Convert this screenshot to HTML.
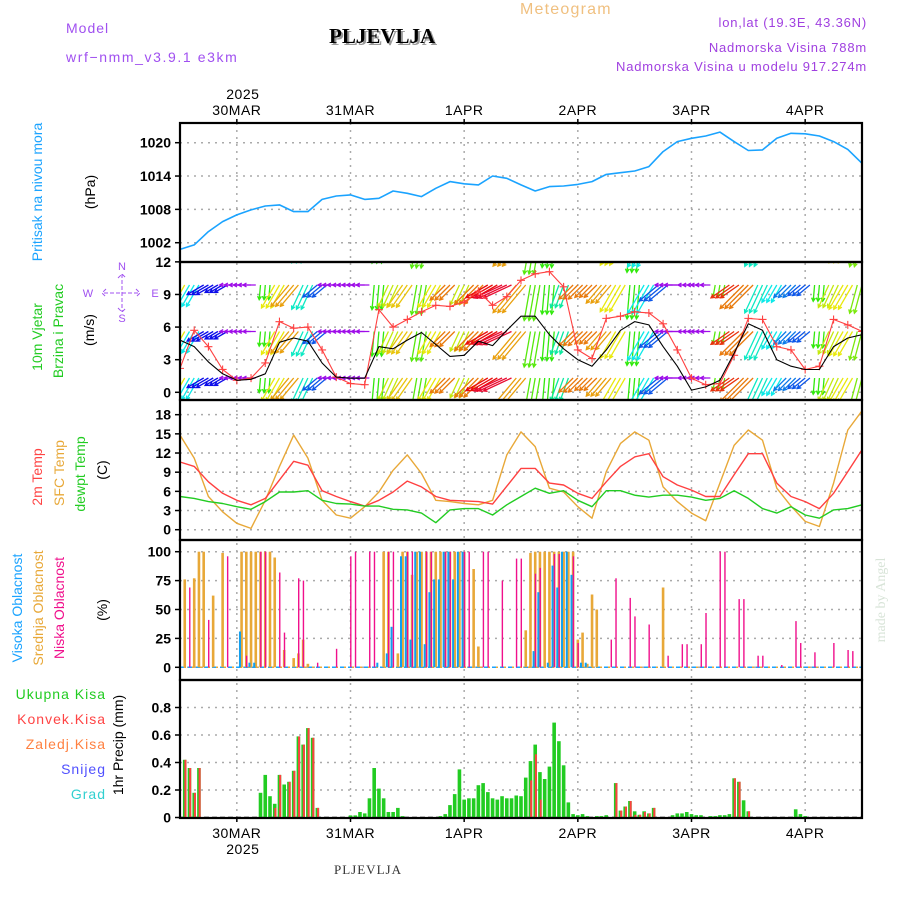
<!DOCTYPE html>
<html><head><meta charset="utf-8"><style>
body{margin:0;background:#fff;}
svg{display:block;font-family:"Liberation Sans",sans-serif;}
</style></head><body>
<svg id="chart" width="900" height="900" viewBox="0 0 900 900" xmlns="http://www.w3.org/2000/svg">
<defs>
<clipPath id="clipW"><rect x="180" y="262" width="682" height="138"/></clipPath>
</defs>
<g id="header">
<text x="66" y="33" font-size="14" fill="#a050f0" letter-spacing="1">Model</text>
<text x="66" y="62" font-size="14" fill="#a050f0" letter-spacing="1.6">wrf−nmm_v3.9.1 e3km</text>
<text x="331" y="45" font-size="21" font-weight="bold" fill="#999" font-family="Liberation Serif, serif">PLJEVLJA</text>
<text x="329" y="43" font-size="21" font-weight="bold" fill="#000" font-family="Liberation Serif, serif">PLJEVLJA</text>
<text x="520" y="14" font-size="16" fill="#f0c080" letter-spacing="1.2">Meteogram</text>
<text x="867" y="27" font-size="13" fill="#a040e0" text-anchor="end" letter-spacing="0.8">lon,lat (19.3E, 43.36N)</text>
<text x="867" y="52" font-size="13" fill="#a040e0" text-anchor="end" letter-spacing="0.8">Nadmorska Visina 788m</text>
<text x="867" y="71" font-size="13" fill="#a040e0" text-anchor="end" letter-spacing="0.8">Nadmorska Visina u modelu 917.274m</text>
<text x="368" y="874" font-size="13" fill="#333" text-anchor="middle" letter-spacing="1" font-family="Liberation Serif, serif">PLJEVLJA</text>
<text transform="translate(885,600) rotate(-90)" font-size="14" fill="#d8e4d8" text-anchor="middle" font-family="Liberation Serif, serif">made by Angel</text>
</g>
<g id="ylabels" font-size="14">
<text transform="translate(42,192) rotate(-90)" text-anchor="middle" fill="#1aa3ff">Pritisak na nivou mora</text>
<text transform="translate(95,192) rotate(-90)" text-anchor="middle" fill="#000">(hPa)</text>
<text transform="translate(42,337) rotate(-90)" text-anchor="middle" fill="#22cc22">10m Vjetar</text>
<text transform="translate(63,331) rotate(-90)" text-anchor="middle" fill="#22cc22">Brzina i Pravac</text>
<text transform="translate(94,330) rotate(-90)" text-anchor="middle" fill="#000">(m/s)</text>
<g fill="#a050f0" font-size="11">
<text x="122" y="270" text-anchor="middle">N</text>
<text x="122" y="322" text-anchor="middle">S</text>
<text x="88" y="297" text-anchor="middle">W</text>
<text x="155" y="297" text-anchor="middle">E</text>
<path d="M122 274V312M104 293H140M106 289L102 293L106 297M136 289L140 293L136 297M118 278L122 274L126 278M118 308L122 312L126 308" stroke="#a050f0" stroke-width="1" fill="none" stroke-dasharray="4,2"/>
</g>
<text transform="translate(42,477) rotate(-90)" text-anchor="middle" fill="#ff4444">2m Temp</text>
<text transform="translate(64,473) rotate(-90)" text-anchor="middle" fill="#e8a838">SFC Temp</text>
<text transform="translate(85,474) rotate(-90)" text-anchor="middle" fill="#22cc22">dewpt Temp</text>
<text transform="translate(107,470) rotate(-90)" text-anchor="middle" fill="#000">(C)</text>
<text transform="translate(22,608) rotate(-90)" text-anchor="middle" fill="#1aa3ff">Visoka Oblacnost</text>
<text transform="translate(43,608) rotate(-90)" text-anchor="middle" fill="#e8a838">Srednja Oblacnost</text>
<text transform="translate(64,608) rotate(-90)" text-anchor="middle" fill="#f0108c">Niska Oblacnost</text>
<text transform="translate(107,610) rotate(-90)" text-anchor="middle" fill="#000">(%)</text>
<text x="106" y="699" text-anchor="end" fill="#22cc22" letter-spacing="1">Ukupna Kisa</text>
<text x="106" y="724" text-anchor="end" fill="#ff4444" letter-spacing="1">Konvek.Kisa</text>
<text x="106" y="749" text-anchor="end" fill="#ff8040" letter-spacing="1">Zaledj.Kisa</text>
<text x="106" y="774" text-anchor="end" fill="#5050ff" letter-spacing="1">Snijeg</text>
<text x="106" y="799" text-anchor="end" fill="#30d0d0" letter-spacing="1">Grad</text>
<text transform="translate(123,745) rotate(-90)" text-anchor="middle" fill="#000">1hr Precip (mm)</text>
</g>
<g id="grid"></g>
<g id="marks"></g>
<g id="frames"></g>
</svg>
<script>
// ---- data (3-hourly from 29MAR 12Z, 49 points) ----
const dayLabels = ["30MAR","31MAR","1APR","2APR","3APR","4APR"];
const pressure = [1000.8,1001.6,1004.0,1005.8,1007.0,1007.9,1008.6,1008.8,1007.6,1007.6,1009.8,1010.4,1010.6,1009.8,1010.0,1011.3,1010.9,1010.3,1011.8,1013.0,1012.6,1012.4,1014.0,1013.6,1012.4,1011.3,1012.1,1012.2,1012.5,1013.0,1014.3,1014.6,1014.9,1015.7,1018.4,1020.2,1020.8,1021.2,1021.9,1020.2,1018.6,1018.7,1020.8,1021.7,1021.6,1021.2,1020.2,1018.8,1016.3];
const windSpeed = [4.8,4.2,2.8,1.7,1.1,1.2,1.7,4.6,5.0,4.7,2.7,1.4,1.3,1.3,4.2,4.0,4.8,5.5,4.4,3.3,3.4,4.7,4.3,5.7,7.0,7.0,5.3,4.0,3.0,2.4,3.9,5.7,6.5,6.2,4.2,2.4,0.2,0.5,1.1,3.6,6.3,5.7,3.0,2.4,2.1,2.1,4.2,5.0,5.3];
const windGust = [2.2,5.7,4.2,2.1,1.1,1.3,2.7,6.5,5.9,6.0,3.9,1.4,0.8,0.7,7.6,6.0,6.7,7.4,8.0,7.9,8.3,9.3,8.0,8.8,10.3,10.9,11.1,9.7,3.9,3.1,6.8,7.0,7.4,7.3,6.3,3.9,1.3,0.7,0.8,3.4,6.8,6.7,4.2,3.9,2.1,2.4,6.7,6.2,5.6];
const windDir = [30,-30,-60,-60,100,100,5,30,40,-25,-50,100,100,100,5,25,35,10,30,45,25,45,60,65,40,10,5,-20,45,45,40,30,5,-30,-50,100,100,100,10,55,45,-25,-30,-45,-50,5,25,30,15];
const temp2m = [10.6,9.9,7.5,5.7,4.6,3.9,4.9,7.8,10.7,10.1,6.1,5.2,4.4,3.7,4.6,5.9,7.6,6.7,5.2,4.6,4.5,4.4,4.0,6.8,9.6,9.6,7.3,7.0,5.7,4.9,7.5,9.9,11.4,11.9,8.3,7.0,6.2,5.2,5.2,8.6,11.9,11.9,7.3,5.2,4.4,3.3,5.7,9.1,12.5];
const tempSfc = [14.8,11.2,5.2,2.8,1.0,0.2,4.6,9.9,14.8,11.2,4.6,2.3,1.8,3.6,5.9,9.3,11.7,8.8,4.6,4.4,4.1,3.9,4.6,11.7,15.3,13.0,6.5,5.9,3.6,1.8,9.1,13.5,15.3,14.0,6.7,4.4,2.6,1.4,7.3,13.2,15.6,14.0,6.5,3.7,1.3,0.5,7.3,15.6,18.6];
const tempDew = [5.2,4.9,4.4,4.1,3.6,3.2,4.4,5.9,5.9,6.1,4.6,4.1,4.0,3.7,3.7,3.2,3.1,2.6,1.1,3.1,3.3,3.3,2.3,3.9,5.2,6.5,5.7,6.1,4.6,3.6,6.1,6.1,5.4,5.1,5.4,5.4,5.1,4.6,4.9,6.1,4.9,3.3,2.6,3.6,2.3,1.8,3.1,3.3,3.9];
// ---- cloud cover (hour index, %) ----
const highHours = [13,15,16,42,44,45,47,48,49,50,51,52,53,54,55,56,57,58,59,60,75,76,78,79,80,81,82,83,85,86];
const highVals  = [31,4,4,4,12,35,96,96,24,100,100,20,65,76,76,100,100,76,100,100,14,65,4,88,69,100,100,80,4,4];
const midHours = [1,3,4,5,7,9,13,14,15,16,17,18,19,20,22,24,25,26,27,43,44,46,47,48,49,50,51,52,53,54,55,56,57,58,59,60,62,63,73,74,75,76,77,78,79,80,81,82,83,84,85,86,87,88,102];
const midVals  = [76,77,100,100,62,99,100,100,100,100,100,100,100,95,15,8,12,24,3,100,100,12,100,100,80,100,100,100,100,100,100,100,100,100,100,100,85,18,32,99,100,100,100,100,100,100,100,100,100,24,30,3,63,50,69];
const lowHours = [2,6,10,14,17,18,21,22,25,26,29,33,36,37,40,41,44,45,48,49,52,53,56,57,60,61,64,65,68,71,72,75,76,79,80,83,84,91,92,95,96,99,103,106,107,110,111,114,115,118,119,122,123,127,130,131,134,138,141,142];
const lowVals  = [69,41,96,10,100,100,82,30,77,75,4,16,96,100,100,100,100,100,100,100,100,100,100,100,100,100,100,100,75,94,94,81,86,98,98,96,21,24,77,60,44,37,10,20,20,20,47,100,100,59,59,10,10,2,40,21,13,21,15,14];
// ---- precipitation (hour index, mm) ----
const precipHours = [1,2,3,4,17,18,19,20,21,22,23,24,25,26,27,28,29,36,37,38,39,40,41,42,43,44,45,46,47,55,56,57,58,59,60,61,62,63,64,65,66,67,68,69,70,71,72,73,74,75,76,77,78,79,80,81,82,83,84,85,86,88,89,90,92,93,94,95,96,97,98,99,100,104,105,106,107,108,109,110,112,113,114,115,116,117,118,119,120,130,131,132];
const precipTotal = [0.42,0.36,0.18,0.36,0.18,0.31,0.155,0.10,0.31,0.24,0.26,0.34,0.59,0.53,0.65,0.58,0.07,0.015,0.015,0.04,0.03,0.14,0.36,0.21,0.14,0.04,0.04,0.07,0.01,0.01,0.025,0.09,0.17,0.35,0.13,0.14,0.14,0.235,0.25,0.185,0.14,0.13,0.155,0.14,0.14,0.16,0.155,0.29,0.41,0.53,0.33,0.28,0.37,0.69,0.555,0.38,0.11,0.025,0.017,0.025,0.01,0.01,0.01,0.017,0.25,0.05,0.08,0.12,0.045,0.02,0.045,0.03,0.07,0.017,0.03,0.03,0.04,0.025,0.017,0.017,0.01,0.01,0.017,0.017,0.025,0.285,0.26,0.125,0.045,0.06,0.025,0.01];
const precipConv  = [0.42,0.36,0.18,0.36,0,0,0,0.07,0.31,0,0.26,0.34,0.59,0.53,0.65,0.58,0.07,0,0,0,0,0,0,0,0,0,0,0,0,0,0,0,0,0,0,0,0,0,0,0,0,0,0,0,0,0,0,0,0.27,0.46,0.13,0,0,0,0,0,0,0,0,0,0,0,0,0,0.25,0.05,0.08,0.12,0.02,0.02,0.04,0.03,0.07,0,0,0,0,0,0,0,0,0,0,0,0,0.285,0.26,0,0.045,0,0,0];
const pTicks = [1002,1008,1014,1020];
const wTicks = [0,3,6,9,12];
const tTicks = [0,3,6,9,12,15,18];
const cTicks = [0,25,50,75,100];
const rTicks = [0,0.2,0.4,0.6,0.8];

// ---- axes ----
const L=180, R=862;
const X = h => L + h*(R-L)/144;
const yP = p => 142.7 + (1020-p)*5.556;
const yW = v => 392.3 - v*10.87;
const yT = t => 529.7 - t*6.39;
const yC = c => 667.3 - c*1.156;
const yR = r => 817.5 - r*137.5;
const NS="http://www.w3.org/2000/svg";
function mk(tag, attrs, parent){const e=document.createElementNS(NS,tag);for(const k in attrs)e.setAttribute(k,attrs[k]);parent.appendChild(e);return e;}
const grid=document.getElementById('grid'), marks=document.getElementById('marks'), frames=document.getElementById('frames');
const panels=[[123,262,pTicks,yP,v=>v],[262,400,wTicks,yW,v=>v],[400,540,tTicks,yT,v=>v],[540,680,cTicks,yC,v=>v],[680,818,rTicks,yR,v=>v===0?"0":v.toFixed(1)]];
const pnames=['pressure','wind','temperature','cloud','precip'];
panels.forEach((p,i)=>{
  p[2].forEach(t=>{
    const y=p[3](t);
    if(y>p[0]+3 && y<p[1]-3){
      const g=mk('line',{x1:L,x2:R,y1:y,y2:y,stroke:'#aaa','stroke-width':1.5,'stroke-dasharray':'2,5'},grid);
      
      
    }
    mk('line',{x1:L-5,x2:L,y1:y,y2:y,stroke:'#000','stroke-width':1.5},grid);
    const tx=mk('text',{x:L-9,y:y+5,'text-anchor':'end','font-size':14,'font-weight':'bold',fill:'#000'},grid);
    tx.textContent=p[4](t);
    
    
  });
  const fr=mk('rect',{x:L,y:p[0],width:R-L,height:p[1]-p[0],fill:'none',stroke:'#000','stroke-width':2.2},frames);
  
  
});
dayLabels.forEach((d,i)=>{
  const x=X(12+24*i);
  const gl=mk('line',{x1:x,x2:x,y1:123,y2:818,stroke:'#aaa','stroke-width':1.5,'stroke-dasharray':'2,5'},grid);
  
  
  mk('line',{x1:x,x2:x,y1:119,y2:123,stroke:'#000','stroke-width':1.5},grid);
  mk('line',{x1:x,x2:x,y1:818,y2:822,stroke:'#000','stroke-width':1.5},grid);
  const t1=mk('text',{x:x,y:115,'text-anchor':'middle','font-size':14,fill:'#000','letter-spacing':0.5},grid);
  t1.textContent=d;
  
  
  const t2=mk('text',{x:x,y:838,'text-anchor':'middle','font-size':14,fill:'#000','letter-spacing':0.5},grid);
  t2.textContent=d;
  
  
});
[[99],[854]].forEach(a=>{const t=mk('text',{x:X(12)+6,y:a[0],'text-anchor':'middle','font-size':14,fill:'#000','letter-spacing':0.5},grid);t.textContent='2025';
  
  });

function line(arr, yf, color, w, name){
  const d=arr.map((v,k)=>(k?'L':'M')+X(k*3).toFixed(1)+' '+yf(v).toFixed(1)).join('');
  const p=mk('path',{d:d,fill:'none',stroke:color,'stroke-width':w,'stroke-linejoin':'round'},marks);
  
  
  return p;
}
// pressure
line(pressure,yP,'#1aa3ff',1.6,'pressure-line');
// wind arrows
const wg=mk('g',{'clip-path':'url(#clipW)'},marks);


const rows=[238.5,285,331.5,378];
for(let h=0;h<=144;h++){
  const k=Math.min(48,Math.round(h/3));
  const ad=Math.abs(windDir[k]);
  const dir=(ad>90?90:ad)*Math.PI/180, len=8+4*windSpeed[k];
  const hue=(((120-2*windDir[k])%360)+360)%360;
  const col='hsl('+hue+',90%,48%)';
  const dx=-Math.sin(dir), dy=Math.cos(dir);
  rows.forEach(ry=>{
    const x0=X(h), y0=ry, x1=x0+dx*len, y1=y0+dy*len;
    const a=Math.atan2(-dy,-dx);
    const hx1=x1+4*Math.cos(a+0.5), hy1=y1+4*Math.sin(a+0.5), hx2=x1+4*Math.cos(a-0.5), hy2=y1+4*Math.sin(a-0.5);
    const ar=mk('path',{d:`M${x0.toFixed(1)} ${y0}L${x1.toFixed(1)} ${y1.toFixed(1)}M${hx1.toFixed(1)} ${hy1.toFixed(1)}L${x1.toFixed(1)} ${y1.toFixed(1)}L${hx2.toFixed(1)} ${hy2.toFixed(1)}`,stroke:col,'stroke-width':1.3,fill:'none'},wg);
    
    
  });
}
const wl=mk('g',{'clip-path':'url(#clipW)'},marks);
const gp=line(windGust,yW,'#ff4040',1.1,'wind-gust-line'); wl.appendChild(gp);
windGust.forEach((v,k)=>{
  const x=X(k*3), y=yW(v);
  const m=mk('path',{d:`M${x-4} ${y}H${x+4}M${x} ${y-4}V${y+4}`,stroke:'#ff4040','stroke-width':1.1},wl);
  
  
});
const sp=line(windSpeed,yW,'#000',1.1,'wind-speed-line'); wl.appendChild(sp);
// temperature
line(tempSfc,yT,'#e8a838',1.4,'sfc-temp-line');
line(temp2m,yT,'#ff4040',1.4,'2m-temp-line');
line(tempDew,yT,'#22cc22',1.4,'dewpt-temp-line');
// cloud
const base=mk('line',{x1:L,x2:R,y1:yC(0),y2:yC(0),stroke:'#1aa3ff','stroke-width':1.5,'stroke-dasharray':'5,3'},marks);


mk('line',{x1:L+4,x2:R,y1:yC(0),y2:yC(0),stroke:'#e8a838','stroke-width':1.5,'stroke-dasharray':'2,6'},marks);
function bars(hrs, vals, yf, off, w, color, name){
  hrs.forEach((h,i)=>{
    const y=yf(vals[i]), y0=yf(0);
    if(vals[i]<=0) return;
    const b=mk('rect',{x:(X(h)+off-w/2).toFixed(2),y:y.toFixed(1),width:w,height:(y0-y).toFixed(1),fill:color},marks);
    
    
  });
}
bars(midHours,midVals,yC,0,2.6,'#e8a838','mid-cloud-bar');
bars(highHours,highVals,yC,-1.6,2,'#10a0f0','high-cloud-bar');
bars(lowHours,lowVals,yC,0.3,1.4,'#f0108c','low-cloud-bar');
// precip
const pb=mk('line',{x1:L,x2:R,y1:yR(0),y2:yR(0),stroke:'#000','stroke-width':1.5,'stroke-dasharray':'5,3'},marks);


bars(precipHours,precipTotal,yR,0,3.6,'#22cc22','total-precip-bar');
bars(precipHours,precipConv,yR,0.7,2,'#ff4040','convective-precip-bar');
</script>
</body></html>
